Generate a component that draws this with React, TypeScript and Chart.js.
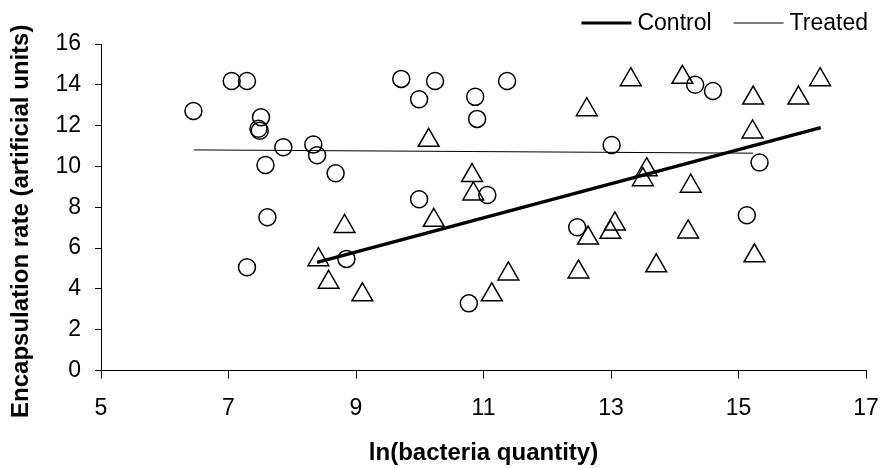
import React, { useEffect, useRef } from "react";
import { Chart, registerables } from "chart.js";

Chart.register(...registerables);

// Treated observations (circles)
const treatedX = [6.45, 7.05, 7.29, 7.51, 7.47, 7.49, 7.86, 8.33, 8.39, 7.58, 8.68, 9.71, 10.24, 9.99, 10.87, 10.9, 9.99, 11.06, 11.37, 14.32, 14.6, 13.01, 15.33, 7.61, 7.29, 8.85, 10.77, 12.47, 15.13];
const treatedY = [12.72, 14.19, 14.19, 12.41, 11.85, 11.75, 10.94, 11.07, 10.55, 10.07, 9.67, 14.29, 14.19, 13.29, 13.41, 12.33, 8.39, 8.6, 14.19, 14.0, 13.7, 11.05, 10.19, 7.51, 5.06, 5.47, 3.29, 7.02, 7.61];

// Control observations (triangles)
const controlX = [10.14, 10.82, 10.84, 13.31, 14.12, 16.28, 15.23, 15.94, 12.62, 15.22, 13.56, 13.5, 14.25, 8.82, 8.41, 8.57, 9.1, 10.22, 11.13, 11.39, 12.64, 12.49, 13.06, 12.99, 14.21, 13.71, 15.25];
const controlY = [11.28, 9.55, 8.65, 14.25, 14.37, 14.25, 13.35, 13.35, 12.78, 11.69, 9.84, 9.35, 9.03, 7.06, 5.43, 4.32, 3.71, 7.36, 3.71, 4.73, 6.49, 4.83, 7.18, 6.77, 6.79, 5.13, 5.62];

// Fitted lines
const controlTrendX = [8.39, 16.29];
const controlTrendY = [5.3, 11.9];
const treatedTrendX = [6.46, 15.23];
const treatedTrendY = [10.81, 10.65];

const xTicks = [5, 7, 9, 11, 13, 15, 17];
const yTicks = [0, 2, 4, 6, 8, 10, 12, 14, 16];
const seriesNames = ["Control", "Treated"];
const xTitle = "ln(bacteria quantity)";
const yTitle = "Encapsulation rate (artificial units)";

const FONT = '"Liberation Sans", Arial, Helvetica, sans-serif';

const zip = (xs: number[], ys: number[]) => xs.map((x, i) => ({ x, y: ys[i] }));

const lineLegendPlugin = {
  id: "lineLegend",
  afterDraw(chart: any) {
    const ctx = chart.ctx as CanvasRenderingContext2D;
    ctx.save();
    ctx.font = `23px ${FONT}`;
    ctx.textBaseline = "middle";
    ctx.fillStyle = "#000";
    ctx.strokeStyle = "#000";
    const items = chart.data.datasets.filter((d: any) => seriesNames.includes(d.label));
    const lineLen = 50;
    const gap = 6;
    const itemGap = 22;
    const widths = items.map((d: any) => lineLen + gap + ctx.measureText(d.label).width);
    const total = widths.reduce((a: number, b: number) => a + b, 0) + itemGap * (items.length - 1);
    let x = 868 - total;
    const y = 23;
    items.forEach((d: any, i: number) => {
      ctx.beginPath();
      ctx.lineWidth = d.borderWidth >= 2 ? 3 : 1;
      ctx.moveTo(x, y);
      ctx.lineTo(x + lineLen, y);
      ctx.stroke();
      ctx.textAlign = "left";
      ctx.fillText(d.label, x + lineLen + gap, y + 1);
      x += widths[i] + itemGap;
    });
    ctx.restore();
  },
};

const yTitlePlugin = {
  id: "yTitle",
  afterDraw(chart: any) {
    const ctx = chart.ctx as CanvasRenderingContext2D;
    const area = chart.chartArea;
    ctx.save();
    ctx.font = `bold 24px ${FONT}`;
    ctx.fillStyle = "#000";
    ctx.textAlign = "center";
    ctx.textBaseline = "middle";
    ctx.translate(21, (area.top + area.bottom) / 2 + 14);
    ctx.rotate(-Math.PI / 2);
    ctx.fillText(yTitle, 0, 0);
    ctx.restore();
  },
};

export default function App() {
  const canvasRef = useRef<HTMLCanvasElement | null>(null);

  useEffect(() => {
    const canvas = canvasRef.current;
    if (!canvas) return;
    const chart = new Chart(canvas, {
      type: "scatter",
      data: {
        datasets: [
          {
            label: "Treated points",
            data: zip(treatedX, treatedY),
            pointStyle: "circle",
            pointRadius: 8.5,
            pointHoverRadius: 8.5,
            borderColor: "#000",
            backgroundColor: "rgba(0,0,0,0)",
            borderWidth: 1.5,
            showLine: false,
          },
          {
            label: "Control points",
            data: zip(controlX, controlY),
            pointStyle: "triangle",
            pointRadius: 12,
            pointHoverRadius: 12,
            borderColor: "#000",
            backgroundColor: "rgba(0,0,0,0)",
            borderWidth: 1.5,
            showLine: false,
          },
          {
            label: "Control",
            data: zip(controlTrendX, controlTrendY),
            showLine: true,
            borderColor: "#000",
            backgroundColor: "#000",
            borderWidth: 3.5,
            pointRadius: 0,
            pointHoverRadius: 0,
          },
          {
            label: "Treated",
            data: zip(treatedTrendX, treatedTrendY),
            showLine: true,
            borderColor: "#000",
            backgroundColor: "#000",
            borderWidth: 1,
            pointRadius: 0,
            pointHoverRadius: 0,
          },
        ],
      },
      options: {
        responsive: false,
        animation: false,
        devicePixelRatio: 1,
        layout: { padding: { top: 44, right: 16, left: 0, bottom: 0 } },
        plugins: {
          legend: { display: false },
          tooltip: { enabled: false },
          title: { display: false },
        },
        scales: {
          x: {
            type: "linear",
            min: 5,
            max: 17,
            afterBuildTicks: (scale: any) => {
              scale.ticks = xTicks.map((v) => ({ value: v }));
            },
            afterFit: (scale: any) => {
              scale.height = 97.5;
              scale.paddingLeft = 0;
              scale.paddingRight = 0;
            },
            grid: {
              display: true,
              drawOnChartArea: false,
              drawTicks: true,
              tickLength: 8,
              color: "#000",
              lineWidth: 1,
            },
            border: { display: true, color: "#000", width: 1 },
            ticks: {
              color: "#000",
              padding: 16,
              maxRotation: 0,
              font: { family: FONT, size: 23 },
            },
            title: {
              display: true,
              text: xTitle,
              color: "#000",
              padding: { top: 0, bottom: 0 },
              font: { family: FONT, size: 24, weight: "bold" },
            },
          },
          y: {
            type: "linear",
            min: 0,
            max: 16,
            afterBuildTicks: (scale: any) => {
              scale.ticks = yTicks.map((v) => ({ value: v }));
            },
            afterFit: (scale: any) => {
              scale.width = 101;
              scale.paddingTop = 0;
              scale.paddingBottom = 0;
            },
            grid: {
              display: true,
              drawOnChartArea: false,
              drawTicks: true,
              tickLength: 6,
              color: "#000",
              lineWidth: 1,
            },
            border: { display: true, color: "#000", width: 1 },
            ticks: {
              color: "#000",
              padding: 14,
              font: { family: FONT, size: 23 },
            },
            title: { display: false },
          },
        },
      } as any,
      plugins: [lineLegendPlugin, yTitlePlugin],
    });
    return () => chart.destroy();
  }, []);

  return (
    <div style={{ position: "absolute", left: 0, top: 0, width: 882, height: 468, background: "#fff" }}>
      <canvas ref={canvasRef} width={882} height={468} style={{ display: "block" }} />
    </div>
  );
}
